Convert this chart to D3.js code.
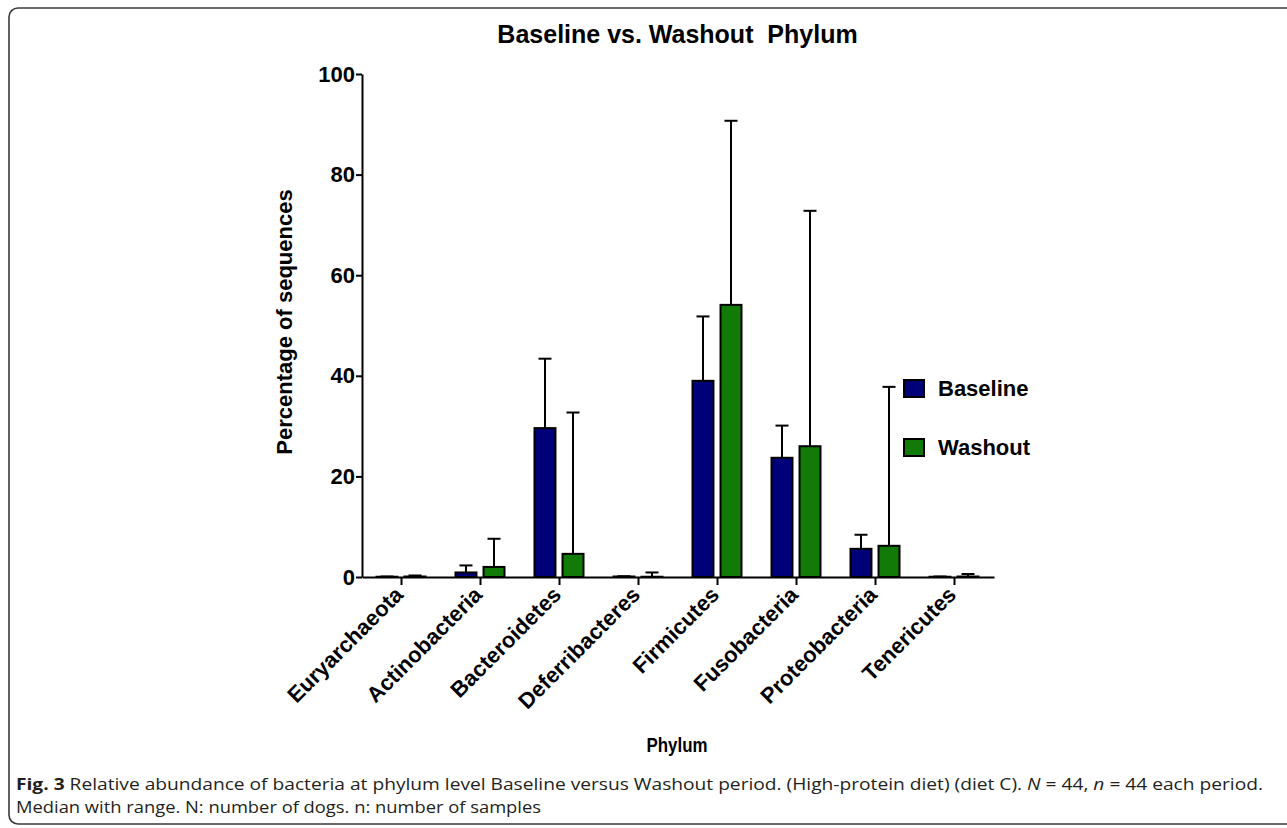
<!DOCTYPE html>
<html>
<head>
<meta charset="utf-8">
<script src="https://cdn.jsdelivr.net/npm/d3@7"></script>
<style>
  body { margin: 0; background: #fff; }
  svg { display: block; }
  .chart text { font-family: "Liberation Sans", Arial, sans-serif; }
  .caption text { font-family: "Open Sans", "Noto Sans", sans-serif; }
</style>
</head>
<body>
<script>
// phylum level, median with range (upper whisker = max)
var phyla = ["Euryarchaeota", "Actinobacteria", "Bacteroidetes", "Deferribacteres",
             "Firmicutes", "Fusobacteria", "Proteobacteria", "Tenericutes"];
var series = ["Baseline", "Washout"];
var seriesColors = ["#000078", "#127b07"];
var baselineMedian = [0.05, 0.9, 29.6, 0.1, 39.0, 23.7, 5.6, 0.05];
var washoutMedian  = [0.1, 2.0, 4.6, 0.05, 54.1, 26.0, 6.2, 0.1];
var baselineMax    = [0.1, 2.3, 43.4, 0.15, 51.8, 30.1, 8.4, 0.1];
var washoutMax     = [0.3, 7.6, 32.7, 0.9, 90.7, 72.8, 37.8, 0.6];
var yTicks = [0, 20, 40, 60, 80, 100];

var width = 1287,
    height = 828;

var svg = d3.select("body").append("svg")
    .attr("width", width)
    .attr("height", height);

// figure frame (right and bottom edges run off the page)
svg.append("rect")
    .attr("x", 9).attr("y", 8)
    .attr("width", 1320).attr("height", 816)
    .attr("rx", 9)
    .attr("fill", "none")
    .attr("stroke", "#3a3a3a")
    .attr("stroke-width", 1.6);

var chart = svg.append("g").attr("class", "chart");

var x = d3.scaleBand()
    .domain(phyla)
    .range([362, 994]);

var xSub = d3.scaleBand()
    .domain(series)
    .range([13.5, 64.5])
    .paddingInner(0.18);

var y = d3.scaleLinear()
    .domain([0, 100])
    .range([577, 74]);

var rows = [];
phyla.forEach(function(p, i) {
  rows.push({phylum: p, s: "Baseline", med: baselineMedian[i], max: baselineMax[i]});
  rows.push({phylum: p, s: "Washout", med: washoutMedian[i], max: washoutMax[i]});
});

var color = d3.scaleOrdinal().domain(series).range(seriesColors);

// title
chart.append("text")
    .attr("x", 677.5).attr("y", 43)
    .attr("text-anchor", "middle")
    .style("white-space", "pre")
    .style("font-size", "25px")
    .style("font-weight", "bold")
    .text("Baseline vs. Washout  Phylum");

// error bars (upper range only)
var g = chart.append("g");
var bw = xSub.bandwidth();

var err = g.selectAll(".err")
    .data(rows)
  .enter().append("g")
    .attr("class", "err")
    .attr("stroke", "#000")
    .attr("stroke-width", 2);

err.append("line")
    .attr("x1", function(d) { return x(d.phylum) + xSub(d.s) + bw / 2; })
    .attr("x2", function(d) { return x(d.phylum) + xSub(d.s) + bw / 2; })
    .attr("y1", function(d) { return y(d.med); })
    .attr("y2", function(d) { return y(d.max); });

err.append("line")
    .attr("x1", function(d) { return x(d.phylum) + xSub(d.s) + bw / 2 - 6.5; })
    .attr("x2", function(d) { return x(d.phylum) + xSub(d.s) + bw / 2 + 6.5; })
    .attr("y1", function(d) { return y(d.max); })
    .attr("y2", function(d) { return y(d.max); });

g.selectAll(".bar")
    .data(rows)
  .enter().append("rect")
    .attr("class", "bar")
    .attr("x", function(d) { return x(d.phylum) + xSub(d.s) + 1; })
    .attr("width", bw - 2)
    .attr("y", function(d) { return y(d.med); })
    .attr("height", function(d) { return y(0) - y(d.med); })
    .attr("fill", function(d) { return color(d.s); })
    .attr("stroke", "#000")
    .attr("stroke-width", 2);

// y axis
var yAxis = chart.append("g")
    .attr("transform", "translate(362,0)")
    .call(d3.axisLeft(y).tickValues(yTicks).tickSize(6).tickSizeOuter(0).tickPadding(1));
yAxis.select(".domain").attr("stroke-width", 2);
yAxis.selectAll(".tick line").attr("stroke-width", 2);
yAxis.selectAll(".tick text")
    .attr("fill", "#000")
    .style("font-size", "22px")
    .style("font-weight", "bold");

// x axis
var xAxis = chart.append("g")
    .attr("transform", "translate(0,577)")
    .call(d3.axisBottom(x).tickSize(8).tickSizeOuter(0));
xAxis.select(".domain").attr("stroke-width", 2);
xAxis.selectAll(".tick line").attr("stroke-width", 2);
xAxis.selectAll(".tick text")
    .attr("fill", "#000")
    .attr("text-anchor", "end")
    .attr("dy", null)
    .attr("y", null)
    .attr("transform", "translate(3,19) rotate(-45)")
    .style("font-size", "22px")
    .style("font-weight", "bold");

// axis titles
chart.append("text")
    .attr("transform", "translate(292,322) rotate(-90)")
    .attr("text-anchor", "middle")
    .style("font-size", "22px")
    .style("font-weight", "bold")
    .text("Percentage of sequences");

chart.append("text")
    .attr("x", 677).attr("y", 752)
    .attr("text-anchor", "middle")
    .attr("textLength", 61)
    .attr("lengthAdjust", "spacingAndGlyphs")
    .style("font-size", "20px")
    .style("font-weight", "bold")
    .text("Phylum");

// legend
var legend = chart.selectAll(".legend")
    .data(series)
  .enter().append("g")
    .attr("class", "legend")
    .attr("transform", function(d, i) { return "translate(904," + (380 + i * 59) + ")"; });

legend.append("rect")
    .attr("width", 20).attr("height", 17)
    .attr("fill", function(d) { return color(d); })
    .attr("stroke", "#000")
    .attr("stroke-width", 2);

legend.append("text")
    .attr("x", 34).attr("y", 16)
    .style("font-size", "22px")
    .style("font-weight", "bold")
    .text(function(d) { return d; });

// caption
var cap = svg.append("g")
    .attr("class", "caption")
    .style("font-size", "16px")
    .attr("fill", "#231f20");

var l1 = cap.append("text")
    .attr("x", 16).attr("y", 790)
    .attr("textLength", 1247)
    .attr("lengthAdjust", "spacingAndGlyphs");
l1.append("tspan").style("font-weight", "bold").text("Fig. 3");
l1.append("tspan").text(" Relative abundance of bacteria at phylum level Baseline versus Washout period. (High-protein diet) (diet C). ");
l1.append("tspan").style("font-style", "italic").text("N");
l1.append("tspan").text(" = 44, ");
l1.append("tspan").style("font-style", "italic").text("n");
l1.append("tspan").text(" = 44 each period.");

cap.append("text")
    .attr("x", 16).attr("y", 813)
    .attr("textLength", 525)
    .attr("lengthAdjust", "spacingAndGlyphs")
    .text("Median with range. N: number of dogs. n: number of samples");
</script>
</body>
</html>
